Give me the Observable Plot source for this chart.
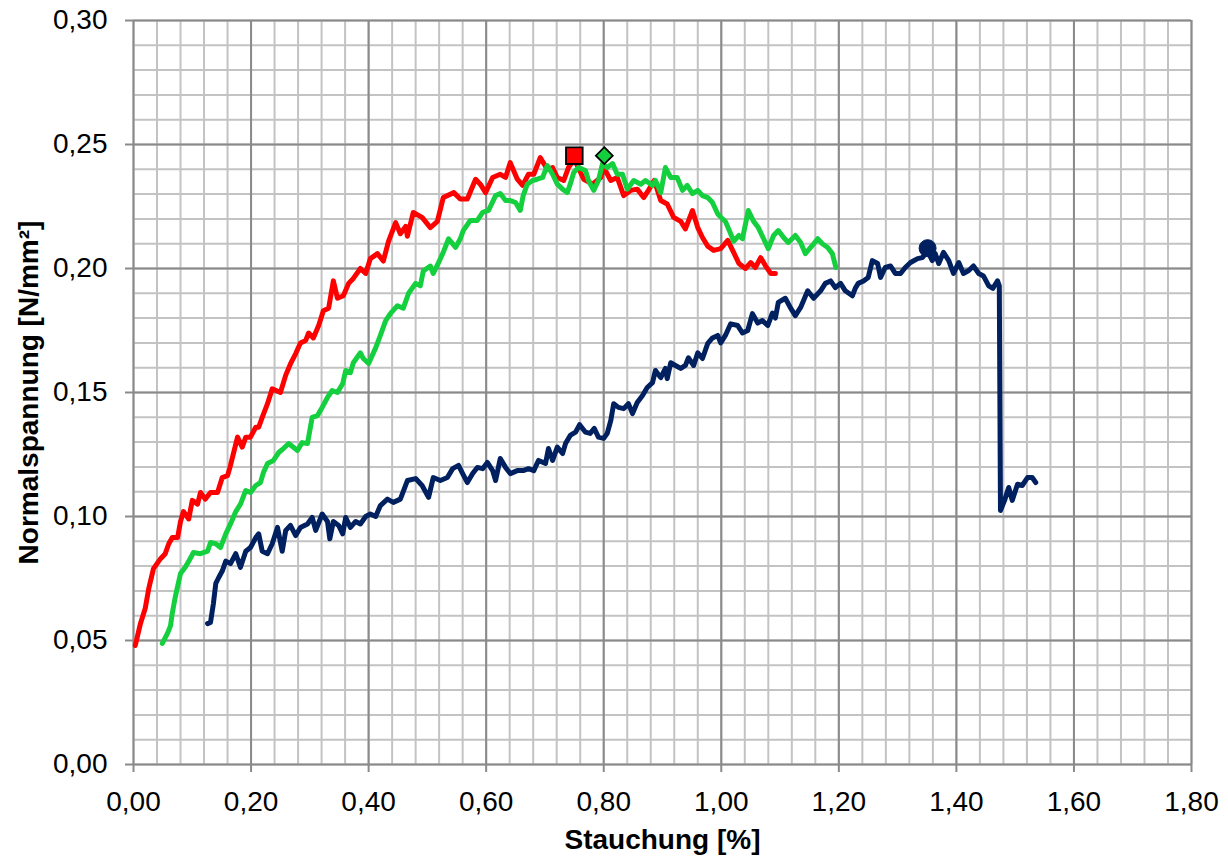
<!DOCTYPE html>
<html><head><meta charset="utf-8">
<script src="https://cdn.jsdelivr.net/npm/d3@7"></script>
<script src="https://cdn.jsdelivr.net/npm/@observablehq/plot@0.6"></script>
<style>body{margin:0;background:#fff;}</style>
</head><body><div id="chart"></div>
<script>
// Stauchung [%] vs Normalspannung [N/mm²]
const redCurve = [[0.003,0.048],[0.012,0.057],[0.020,0.063],[0.026,0.071],[0.034,0.079],[0.046,0.083],[0.054,0.085],[0.060,0.089],[0.066,0.0915],[0.075,0.0915],[0.080,0.098],[0.085,0.102],[0.094,0.099],[0.100,0.1065],[0.109,0.105],[0.114,0.1097],[0.122,0.107],[0.131,0.1097],[0.143,0.1097],[0.151,0.1157],[0.160,0.1165],[0.165,0.1206],[0.177,0.132],[0.185,0.128],[0.191,0.132],[0.199,0.132],[0.208,0.136],[0.213,0.136],[0.219,0.140],[0.228,0.1455],[0.236,0.1515],[0.250,0.150],[0.259,0.157],[0.267,0.1615],[0.276,0.1657],[0.284,0.170],[0.293,0.171],[0.298,0.174],[0.306,0.172],[0.315,0.177],[0.323,0.183],[0.332,0.184],[0.340,0.195],[0.347,0.188],[0.357,0.189],[0.366,0.194],[0.374,0.196],[0.386,0.200],[0.395,0.198],[0.403,0.204],[0.415,0.206],[0.425,0.203],[0.434,0.211],[0.446,0.2185],[0.454,0.214],[0.463,0.217],[0.466,0.213],[0.476,0.2226],[0.491,0.2206],[0.505,0.2165],[0.517,0.219],[0.527,0.2286],[0.545,0.2306],[0.556,0.228],[0.568,0.228],[0.582,0.236],[0.590,0.234],[0.599,0.2306],[0.611,0.2367],[0.624,0.238],[0.633,0.2367],[0.641,0.2427],[0.653,0.236],[0.662,0.2335],[0.672,0.238],[0.681,0.238],[0.692,0.2447],[0.704,0.240],[0.713,0.2407],[0.721,0.2367],[0.732,0.2355],[0.740,0.2407],[0.750,0.244],[0.758,0.240],[0.766,0.236],[0.781,0.234],[0.795,0.2367],[0.800,0.2407],[0.812,0.2355],[0.823,0.2367],[0.834,0.2294],[0.846,0.2315],[0.857,0.232],[0.868,0.2286],[0.876,0.2315],[0.886,0.2355],[0.897,0.2274],[0.908,0.226],[0.919,0.2206],[0.931,0.219],[0.939,0.216],[0.951,0.2234],[0.960,0.2165],[0.968,0.2125],[0.977,0.209],[0.987,0.2073],[0.999,0.208],[1.011,0.2113],[1.021,0.2065],[1.030,0.202],[1.041,0.200],[1.050,0.2024],[1.058,0.2004],[1.067,0.2044],[1.075,0.2012],[1.084,0.198],[1.092,0.198]];

const greenCurve = [[0.049,0.0488],[0.058,0.053],[0.063,0.056],[0.066,0.061],[0.071,0.0675],[0.080,0.077],[0.088,0.0795],[0.094,0.082],[0.102,0.0855],[0.114,0.085],[0.126,0.086],[0.131,0.0895],[0.140,0.089],[0.148,0.0875],[0.157,0.093],[0.165,0.097],[0.174,0.102],[0.182,0.105],[0.191,0.1105],[0.199,0.1097],[0.208,0.1125],[0.216,0.1137],[0.221,0.1177],[0.228,0.1214],[0.238,0.1226],[0.247,0.1258],[0.255,0.1274],[0.264,0.1294],[0.279,0.1266],[0.287,0.1298],[0.296,0.1294],[0.304,0.140],[0.313,0.1407],[0.321,0.144],[0.330,0.148],[0.338,0.1508],[0.347,0.150],[0.356,0.1536],[0.361,0.1589],[0.369,0.158],[0.374,0.162],[0.386,0.166],[0.391,0.1637],[0.400,0.1617],[0.412,0.168],[0.420,0.173],[0.429,0.179],[0.437,0.1818],[0.449,0.185],[0.459,0.184],[0.468,0.190],[0.480,0.194],[0.488,0.193],[0.493,0.199],[0.505,0.201],[0.510,0.198],[0.519,0.2024],[0.527,0.2065],[0.536,0.212],[0.548,0.2085],[0.556,0.212],[0.561,0.2153],[0.573,0.2194],[0.585,0.2194],[0.594,0.2226],[0.604,0.2234],[0.616,0.2294],[0.624,0.2302],[0.633,0.2274],[0.641,0.2274],[0.650,0.2266],[0.658,0.2234],[0.663,0.2294],[0.670,0.234],[0.679,0.2355],[0.687,0.236],[0.696,0.2367],[0.704,0.2415],[0.713,0.238],[0.721,0.234],[0.730,0.232],[0.738,0.2306],[0.743,0.234],[0.749,0.2387],[0.757,0.2407],[0.769,0.2395],[0.774,0.2355],[0.783,0.2315],[0.791,0.2355],[0.798,0.2423],[0.806,0.2407],[0.815,0.2423],[0.823,0.238],[0.832,0.238],[0.840,0.232],[0.851,0.2355],[0.863,0.234],[0.871,0.2355],[0.883,0.2335],[0.888,0.2355],[0.897,0.2306],[0.905,0.2407],[0.914,0.2367],[0.925,0.2367],[0.934,0.2315],[0.942,0.2335],[0.951,0.2302],[0.960,0.2315],[0.968,0.2294],[0.977,0.2286],[0.985,0.2266],[0.994,0.222],[1.002,0.220],[1.007,0.219],[1.016,0.214],[1.021,0.211],[1.030,0.2133],[1.036,0.212],[1.046,0.2234],[1.055,0.219],[1.063,0.2165],[1.072,0.212],[1.080,0.208],[1.089,0.2133],[1.097,0.2153],[1.106,0.2125],[1.114,0.2105],[1.126,0.2133],[1.135,0.2105],[1.143,0.206],[1.155,0.2093],[1.164,0.212],[1.172,0.210],[1.181,0.2085],[1.189,0.206],[1.195,0.2004]];

const navyCurve = [[0.126,0.0568],[0.131,0.0573],[0.136,0.065],[0.140,0.073],[0.145,0.0754],[0.151,0.078],[0.157,0.082],[0.165,0.081],[0.174,0.085],[0.182,0.0795],[0.191,0.086],[0.199,0.0875],[0.208,0.0915],[0.213,0.093],[0.219,0.086],[0.228,0.085],[0.236,0.089],[0.245,0.0956],[0.253,0.086],[0.259,0.0944],[0.267,0.0964],[0.276,0.0923],[0.284,0.0956],[0.296,0.097],[0.304,0.0996],[0.310,0.0944],[0.321,0.101],[0.330,0.098],[0.334,0.091],[0.340,0.098],[0.349,0.0964],[0.356,0.093],[0.361,0.0996],[0.369,0.0956],[0.378,0.098],[0.386,0.097],[0.395,0.100],[0.403,0.101],[0.412,0.100],[0.420,0.1044],[0.432,0.107],[0.442,0.1057],[0.454,0.107],[0.466,0.1145],[0.480,0.1153],[0.491,0.1125],[0.502,0.1077],[0.510,0.1157],[0.522,0.1145],[0.534,0.1157],[0.543,0.1193],[0.553,0.1206],[0.560,0.1173],[0.568,0.1137],[0.577,0.1173],[0.585,0.1198],[0.594,0.1193],[0.602,0.1218],[0.611,0.1185],[0.616,0.1145],[0.624,0.1234],[0.633,0.1198],[0.641,0.1173],[0.653,0.1185],[0.663,0.1185],[0.672,0.1193],[0.681,0.1185],[0.689,0.1226],[0.701,0.1214],[0.706,0.1274],[0.713,0.1226],[0.721,0.128],[0.730,0.1254],[0.735,0.1294],[0.743,0.1327],[0.752,0.134],[0.759,0.137],[0.769,0.134],[0.777,0.1335],[0.784,0.1355],[0.791,0.132],[0.800,0.1315],[0.806,0.1335],[0.812,0.1387],[0.817,0.1455],[0.825,0.144],[0.834,0.1435],[0.842,0.1455],[0.849,0.1415],[0.857,0.146],[0.866,0.1488],[0.874,0.152],[0.883,0.154],[0.888,0.1589],[0.897,0.156],[0.905,0.1597],[0.908,0.1556],[0.914,0.162],[0.922,0.1609],[0.931,0.1597],[0.939,0.1609],[0.944,0.164],[0.953,0.1609],[0.960,0.166],[0.968,0.1637],[0.977,0.1698],[0.985,0.172],[0.994,0.173],[0.999,0.170],[1.007,0.173],[1.016,0.1777],[1.028,0.177],[1.036,0.174],[1.045,0.175],[1.053,0.1818],[1.062,0.178],[1.070,0.179],[1.079,0.177],[1.087,0.182],[1.092,0.180],[1.097,0.1863],[1.109,0.188],[1.118,0.184],[1.126,0.181],[1.135,0.1843],[1.147,0.191],[1.157,0.188],[1.169,0.191],[1.177,0.194],[1.186,0.195],[1.194,0.1923],[1.203,0.194],[1.211,0.191],[1.223,0.189],[1.228,0.192],[1.233,0.194],[1.242,0.195],[1.250,0.1964],[1.257,0.2032],[1.266,0.202],[1.271,0.1964],[1.279,0.2004],[1.288,0.201],[1.296,0.198],[1.305,0.198],[1.313,0.2004],[1.322,0.2024],[1.334,0.204],[1.342,0.2044],[1.351,0.207],[1.359,0.2032],[1.364,0.206],[1.370,0.202],[1.378,0.2065],[1.387,0.2032],[1.395,0.198],[1.404,0.2024],[1.412,0.198],[1.421,0.1992],[1.429,0.201],[1.438,0.198],[1.446,0.197],[1.455,0.193],[1.462,0.192],[1.470,0.195],[1.473,0.193],[1.475,0.1024],[1.482,0.1065],[1.489,0.1117],[1.495,0.1065],[1.504,0.113],[1.512,0.1125],[1.521,0.1157],[1.529,0.1157],[1.535,0.1137]];

// peak markers
const redPeak = [[0.750, 0.2455]];
const greenPeak = [[0.801, 0.2455]];
const navyPeak = [[1.351, 0.2082]];

// axis ticks
const xTicks = [0, 0.2, 0.4, 0.6, 0.8, 1.0, 1.2, 1.4, 1.6, 1.8];
const yTicks = [0, 0.05, 0.10, 0.15, 0.20, 0.25, 0.30];
const xMinorTicks = d3.range(0, 46).map(i => i * 0.04);
const yMinorTicks = d3.range(0, 31).map(i => i * 0.01);

const xTitle = "Stauchung [%]";
const yTitle = "Normalspannung [N/mm²]";

const fmt = d => d3.format(".2f")(d).replace(".", ",");
const X = d => d[0], Y = d => d[1];
const FONT = "'Liberation Sans', Arial, Helvetica, sans-serif";

const chart = Plot.plot({
  width: 1228, height: 859,
  marginLeft: 133, marginRight: 37, marginTop: 20, marginBottom: 95,
  style: {fontFamily: FONT, fontSize: "28px", background: "white", color: "black"},
  x: {domain: [0, 1.8]},
  y: {domain: [0, 0.30]},
  marks: [
    Plot.gridX(xMinorTicks, {stroke: "#c3c3c3", strokeOpacity: 1, strokeWidth: 2}),
    Plot.gridY(yMinorTicks, {stroke: "#c3c3c3", strokeOpacity: 1, strokeWidth: 2}),
    Plot.gridX(xTicks, {stroke: "#8a8a8a", strokeOpacity: 1, strokeWidth: 2}),
    Plot.gridY(yTicks, {stroke: "#8a8a8a", strokeOpacity: 1, strokeWidth: 2}),
    Plot.axisX(xTicks, {tickSize: 8, tickPadding: 19, tickFormat: fmt, stroke: "#8a8a8a", strokeWidth: 2, fontSize: 28, label: null}),
    Plot.axisY(yTicks, {tickSize: 8, tickPadding: 18, tickFormat: fmt, stroke: "#8a8a8a", strokeWidth: 2, fontSize: 28, label: null}),
    Plot.line(redCurve, {x: X, y: Y, stroke: "#ff0000", strokeWidth: 5, strokeLinejoin: "round", strokeLinecap: "round"}),
    Plot.line(greenCurve, {x: X, y: Y, stroke: "#14cf3e", strokeWidth: 5, strokeLinejoin: "round", strokeLinecap: "round"}),
    Plot.line(navyCurve, {x: X, y: Y, stroke: "#002060", strokeWidth: 5, strokeLinejoin: "round", strokeLinecap: "round"}),
    Plot.dot(redPeak, {x: X, y: Y, symbol: "square", r: 9.4, fill: "#ff0000", stroke: "black", strokeWidth: 1.8}),
    Plot.dot(greenPeak, {x: X, y: Y, symbol: "diamond2", r: 7.6, fill: "#14cf3e", stroke: "black", strokeWidth: 1.8}),
    Plot.dot(navyPeak, {x: X, y: Y, symbol: "circle", r: 8.5, fill: "#002060", stroke: "#002060", strokeWidth: 1}),
    Plot.text([xTitle], {text: d => d, frameAnchor: "bottom", dy: 76, fontWeight: "bold", fontSize: 28, lineAnchor: "middle", textAnchor: "middle"}),
    Plot.text([yTitle], {text: d => d, frameAnchor: "left", dx: -104, rotate: -90, fontWeight: "bold", fontSize: 28, lineAnchor: "middle", textAnchor: "middle"})
  ]
});
document.getElementById("chart").append(chart);
</script>
</body></html>
